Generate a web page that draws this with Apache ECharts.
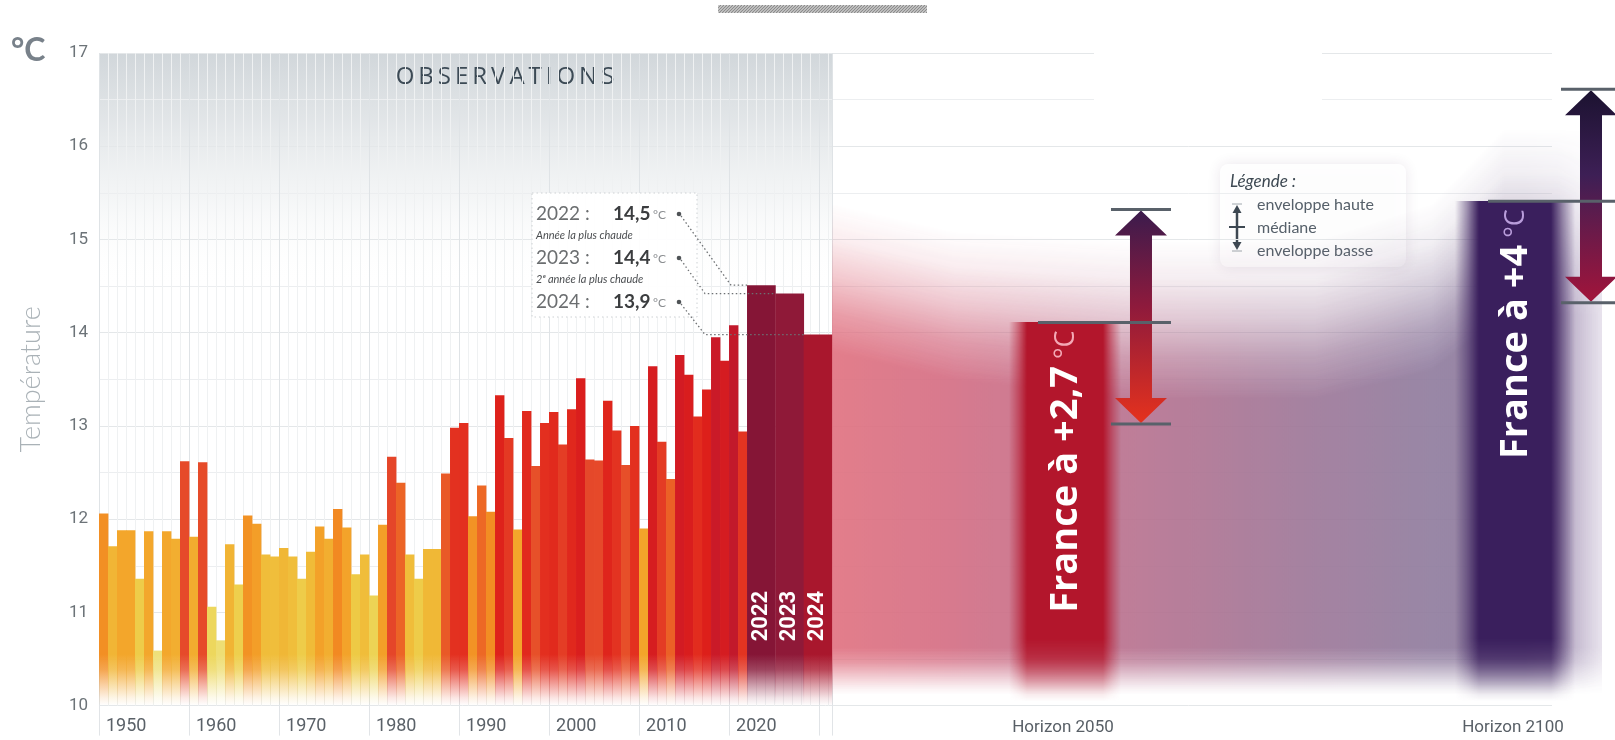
<!DOCTYPE html>
<html lang="fr">
<head>
<meta charset="utf-8">
<title>Températures moyennes annuelles en France</title>
<script type="text/javascript" src="https://cdn.jsdelivr.net/npm/echarts@6/dist/echarts.min.js"></script>
<style>
  html, body { margin: 0; padding: 0; background: #fff; }
  #main { width: 1615px; height: 740px; }
</style>
</head>
<body>
<div id="main"></div>
<script type="text/javascript">
// ---- données ----
var years = [1950, 1951, 1952, 1953, 1954, 1955, 1956, 1957, 1958, 1959,
             1960, 1961, 1962, 1963, 1964, 1965, 1966, 1967, 1968, 1969,
             1970, 1971, 1972, 1973, 1974, 1975, 1976, 1977, 1978, 1979,
             1980, 1981, 1982, 1983, 1984, 1985, 1986, 1987, 1988, 1989,
             1990, 1991, 1992, 1993, 1994, 1995, 1996, 1997, 1998, 1999,
             2000, 2001, 2002, 2003, 2004, 2005, 2006, 2007, 2008, 2009,
             2010, 2011, 2012, 2013, 2014, 2015, 2016, 2017, 2018, 2019,
             2020, 2021, 2022, 2023, 2024];
var temps = [12.06, 11.71, 11.88, 11.88, 11.36, 11.87, 10.59, 11.87, 11.79, 12.62,
             11.81, 12.61, 11.06, 10.70, 11.73, 11.30, 12.04, 11.95, 11.62, 11.60,
             11.69, 11.60, 11.36, 11.65, 11.92, 11.79, 12.11, 11.91, 11.41, 11.62,
             11.18, 11.94, 12.67, 12.39, 11.62, 11.36, 11.68, 11.68, 12.49, 12.98,
             13.03, 12.03, 12.36, 12.08, 13.33, 12.87, 11.89, 13.16, 12.57, 13.03,
             13.15, 12.80, 13.18, 13.51, 12.64, 12.63, 13.27, 12.95, 12.58, 13.00,
             11.90, 13.64, 12.83, 12.43, 13.76, 13.55, 13.10, 13.39, 13.95, 13.70,
             14.08, 12.94, 14.51, 14.42, 13.98];
var recordYears = [2022, 2023, 2024];
var recordTexts = ['14,5', '14,4', '13,9'];
var recordNotes = ['Année la plus chaude', '2ᵉ année la plus chaude', ''];
var horizons = [2050, 2100];
var medianTemp = [14.11, 15.41];
var lowTemp = [13.02, 14.32];
var highTemp = [15.32, 16.61];
var warming = ['+2,7', '+4'];
var yTicks = [10, 11, 12, 13, 14, 15, 16, 17];

// ---- mise en page de l'axe horizontal (1 unité = 1 année étroite) ----
var OBS_END = 81.44;               // fin de la barre 2024
var WIDE = (OBS_END - 72) / 3;     // 2022-2024 ont des barres larges
var X_MAX = 161.44;
function slotOf(yr) {
    if (yr < 2022) return [yr - 1950, yr - 1949];
    if (yr <= 2024) return [72 + (yr - 2022) * WIDE, 72 + (yr - 2021) * WIDE];
    var c = OBS_END + (yr - 2024);
    return [c - 0.5, c + 0.5];
}

// ---- couleurs ----
var colorScale = [[10.6, '#eee07a'], [11.1, '#edd65a'], [11.4, '#eecb46'], [11.65, '#f0bb38'],
                  [11.9, '#f3a42a'], [12.1, '#f28a22'], [12.4, '#ec6326'], [12.65, '#e5472a'],
                  [13.0, '#e3301f'], [13.4, '#dd1f1a'], [13.8, '#d21b24'], [14.1, '#c1192c']];
var recordColors = {2022: '#851536', 2023: '#8f1938', 2024: '#a9172d'};
var projColors = ['#b3162c', '#3a1f5d'];
var unitColors = ['#f4a9b6', '#b99ddb'];
var arrowStops = [
    [[0, '#3a1b4d'], [0.45, '#8e1a3c'], [1, '#e6321d']],
    [[0, '#1b1230'], [0.4, '#3d1f55'], [1, '#a3143a']]
];
var blobStops = [[0, '#e0707f'], [0.15, '#d46c82'], [0.4, '#b6708e'], [0.6, '#9e7596'],
                 [0.78, '#8e7a9d'], [0.9, '#8a789c'], [1, '#b9aac8']];
var blobEdgeX     = [81.4, 95, 115, 135, 148, 156, 168];
var blobEdgeStart = [15.4, 15.1, 15.0, 15.0, 15.4, 16.2, 16.2];
var blobEdgeFull  = [13.8, 13.5, 13.3, 13.3, 13.6, 14.2, 14.2];
var rampIn  = [[0, 0], [0.25, 0.14], [0.5, 0.42], [0.75, 0.76], [1, 1]];
var rampOut = [[0, 1], [0.3, 0.8], [0.6, 0.42], [0.85, 0.12], [1, 0]];

function hexRgb(h) {
    h = h.replace('#', '');
    return [parseInt(h.substr(0, 2), 16), parseInt(h.substr(2, 2), 16), parseInt(h.substr(4, 2), 16)];
}
function rgba(h, a) {
    var c = hexRgb(h);
    return 'rgba(' + c[0] + ',' + c[1] + ',' + c[2] + ',' + a + ')';
}
function mix(a, b, t) {
    var ca = hexRgb(a), cb = hexRgb(b);
    return '#' + [0, 1, 2].map(function (i) {
        var v = Math.round(ca[i] + (cb[i] - ca[i]) * t);
        return ('0' + v.toString(16)).slice(-2);
    }).join('');
}
function tempColor(v) {
    var s = colorScale;
    if (v <= s[0][0]) return s[0][1];
    for (var i = 1; i < s.length; i++) {
        if (v <= s[i][0]) return mix(s[i - 1][1], s[i][1], (v - s[i - 1][0]) / (s[i][0] - s[i - 1][0]));
    }
    return s[s.length - 1][1];
}
function interp(xs, ys, x) {
    if (x <= xs[0]) return ys[0];
    for (var i = 1; i < xs.length; i++) {
        if (x <= xs[i]) return ys[i - 1] + (ys[i] - ys[i - 1]) * (x - xs[i - 1]) / (xs[i] - xs[i - 1]);
    }
    return ys[ys.length - 1];
}
function clamp01(v) { return Math.max(0, Math.min(1, v)); }

// barre de projection : bords latéraux flous, bas qui s'efface
function softBar(coreW, edge, h, fadeFrom, color) {
    var c = document.createElement('canvas');
    c.width = Math.round(coreW + 2 * edge);
    c.height = Math.max(1, Math.round(h));
    var ctx = c.getContext('2d');
    var e = edge / c.width;
    var g = ctx.createLinearGradient(0, 0, c.width, 0);
    g.addColorStop(0, rgba(color, 0));
    g.addColorStop(e * 0.5, rgba(color, 0.45));
    g.addColorStop(e, color);
    g.addColorStop(1 - e, color);
    g.addColorStop(1 - e * 0.5, rgba(color, 0.45));
    g.addColorStop(1, rgba(color, 0));
    ctx.fillStyle = g;
    ctx.fillRect(0, 0, c.width, c.height);
    ctx.globalCompositeOperation = 'destination-in';
    var m = ctx.createLinearGradient(0, 0, 0, c.height);
    var f = clamp01(fadeFrom);
    m.addColorStop(0, 'rgba(0,0,0,1)');
    rampOut.forEach(function (r) { m.addColorStop(f + (1 - f) * r[0], 'rgba(0,0,0,' + r[1] + ')'); });
    ctx.fillStyle = m;
    ctx.fillRect(0, 0, c.width, c.height);
    return c;
}

function hatchCanvas(w, h) {
    var c = document.createElement('canvas');
    c.width = w; c.height = h;
    var g = c.getContext('2d');
    g.fillStyle = '#dcdcdc';
    g.fillRect(0, 0, w, h);
    g.strokeStyle = '#8c8c8c';
    g.lineWidth = 1.2;
    for (var x = -h; x < w + h; x += 3) {
        g.beginPath(); g.moveTo(x, h); g.lineTo(x + h, 0); g.stroke();
    }
    return c;
}

// ---- rendus ----
function renderObs(params, api) {
    var yr = api.value(0), v = api.value(1);
    var s = slotOf(yr);
    var a = api.coord([s[0], v]), b = api.coord([s[1], 10]);
    var yFade = api.coord([0, 10.55])[1];
    var col = recordColors[yr] || tempColor(v);
    var h = b[1] - a[1];
    var f = clamp01((yFade - a[1]) / h);
    var stops = [{offset: 0, color: col}];
    rampOut.forEach(function (r) { stops.push({offset: f + (1 - f) * r[0], color: rgba(col, r[1])}); });
    var kids = [{
        type: 'rect',
        shape: {x: a[0], y: a[1], width: b[0] - a[0] + 0.4, height: h},
        style: {fill: new echarts.graphic.LinearGradient(0, 0, 0, 1, stops)}
    }];
    if (recordColors[yr]) {
        kids.push({
            type: 'text', x: (a[0] + b[0]) / 2, y: api.coord([0, 10.96])[1], rotation: Math.PI / 2,
            style: {text: String(yr), fill: '#fff', font: 'bold 22px Roboto', align: 'center', verticalAlign: 'middle'}
        });
    }
    return {type: 'group', children: kids};
}

function renderBlob(params, api) {
    var BLOB_END = 167, BLOB_TOP = 16.6;
    var pL = api.coord([OBS_END, 10.02]);
    var pR = api.coord([BLOB_END, BLOB_TOP]);
    var x0 = pL[0], yT = pR[1];
    var w = Math.round(pR[0] - x0), h = Math.round(pL[1] - yT);
    var c = document.createElement('canvas');
    c.width = w; c.height = h;
    var ctx = c.getContext('2d');
    var g = ctx.createLinearGradient(0, 0, w, 0);
    blobStops.forEach(function (s) { g.addColorStop(s[0], s[1]); });
    ctx.fillStyle = g;
    ctx.fillRect(0, 0, w, h);

    var m = document.createElement('canvas');
    m.width = w; m.height = h;
    var mc = m.getContext('2d');
    var b0 = clamp01((api.coord([0, 10.62])[1] - yT) / h);
    var b1 = clamp01((api.coord([0, 10.12])[1] - yT) / h);
    for (var x = 0; x < w; x += 2) {
        var sl = OBS_END + (x / w) * (BLOB_END - OBS_END);
        var ys = clamp01((api.coord([sl, interp(blobEdgeX, blobEdgeStart, sl)])[1] - yT) / h);
        var yf = clamp01((api.coord([sl, interp(blobEdgeX, blobEdgeFull, sl)])[1] - yT) / h);
        yf = Math.min(Math.max(yf, ys + 0.001), b0 - 0.001);
        var k = sl > 162 ? 1 - 0.65 * (sl - 162) / (BLOB_END - 162) : 1;
        var lg = mc.createLinearGradient(0, 0, 0, h);
        lg.addColorStop(0, 'rgba(0,0,0,0)');
        rampIn.forEach(function (r) { lg.addColorStop(ys + (yf - ys) * r[0], 'rgba(0,0,0,' + (r[1] * k) + ')'); });
        rampOut.forEach(function (r) { lg.addColorStop(b0 + (b1 - b0) * r[0], 'rgba(0,0,0,' + (r[1] * k) + ')'); });
        lg.addColorStop(1, 'rgba(0,0,0,0)');
        mc.fillStyle = lg;
        mc.fillRect(x, 0, 2, h);
    }
    ctx.globalCompositeOperation = 'destination-in';
    ctx.drawImage(m, 0, 0);
    return {type: 'image', style: {image: c, x: x0, y: yT, width: w, height: h, opacity: 0.9}};
}

function renderProjection(params, api) {
    var i = params.dataIndex;
    var yr = api.value(0), med = api.value(1), lo = api.value(2), hi = api.value(3);
    var cSlot = OBS_END + (yr - 2024);
    var pTop = api.coord([cSlot, med]);
    var yBase = api.coord([cSlot, 10.05])[1];
    var cx = pTop[0] - 1;
    var coreW = i === 0 ? 76 : 72, edge = i === 0 ? 18 : 24;
    var barH = yBase - pTop[1];
    var fade = (api.coord([0, 10.72])[1] - pTop[1]) / barH;
    var img = softBar(coreW, edge, barH, fade, projColors[i]);
    var yHi = api.coord([cSlot, hi])[1], yLo = api.coord([cSlot, lo])[1];
    var ax = cx + 76, sw = 11, hw = 26, hl = 26;
    var grey = '#59616a';
    return {type: 'group', children: [
        {type: 'image', style: {image: img, x: cx - coreW / 2 - edge, y: pTop[1], width: img.width, height: img.height}},
        {type: 'text', x: cx + 1, y: pTop[1] + 8, rotation: Math.PI / 2, style: {
            text: '{b|France à ' + warming[i] + '}{u| °C}', align: 'right', verticalAlign: 'middle',
            rich: {
                b: {fontFamily: 'Open Sans', fontWeight: 'bold', fontSize: 38, fill: '#fff'},
                u: {fontFamily: 'Open Sans', fontSize: 27, fill: unitColors[i]}
            }
        }},
        {type: 'polygon', shape: {points: [
            [ax, yHi + 1], [ax + hw, yHi + hl], [ax + sw, yHi + hl], [ax + sw, yLo - hl], [ax + hw, yLo - hl],
            [ax, yLo - 1], [ax - hw, yLo - hl], [ax - sw, yLo - hl], [ax - sw, yHi + hl], [ax - hw, yHi + hl]
        ]}, style: {fill: new echarts.graphic.LinearGradient(0, yHi, 0, yLo, arrowStops[i].map(function (s) {
            return {offset: s[0], color: s[1]};
        }), true)}},
        {type: 'line', shape: {x1: ax - 30, y1: yHi, x2: ax + 30, y2: yHi}, style: {stroke: grey, lineWidth: 3}},
        {type: 'line', shape: {x1: ax - 30, y1: yLo, x2: ax + 30, y2: yLo}, style: {stroke: grey, lineWidth: 3}},
        {type: 'line', shape: {x1: cx - 27, y1: pTop[1], x2: ax + 30, y2: pTop[1]}, style: {stroke: grey, lineWidth: 3}},
        {type: 'text', x: cx - 2, y: api.coord([cSlot, 10])[1] + 22, style: {
            text: 'Horizon ' + yr, fill: '#585f66', font: '17px Roboto', align: 'center', verticalAlign: 'middle'
        }}
    ]};
}

function renderRecord(params, api) {
    var i = params.dataIndex, yr = api.value(0), v = api.value(1);
    var s = slotOf(yr);
    var top = api.coord([s[0], v]);
    var rowY = 214 + i * 44;
    var bendX = i === 0 ? top[0] - 16 : 705;
    var kids = [];
    if (i === 0) {
        kids.push({type: 'rect', shape: {x: 532, y: 193, width: 165, height: 124},
            style: {fill: 'rgba(255,255,255,0.92)', stroke: '#cdd1d4', lineWidth: 1, lineDash: [1.5, 3]}});
    }
    kids.push(
        {type: 'text', x: 536, y: rowY, style: {text: yr + ' :', font: '19px Lato', fill: '#6b6e70', verticalAlign: 'middle'}},
        {type: 'text', x: 613, y: rowY, style: {text: recordTexts[i], font: 'bold 19px Lato', fill: '#3b3d3f', verticalAlign: 'middle'}},
        {type: 'text', x: 653, y: rowY + 1, style: {text: '°C', font: '12px Lato', fill: '#8a8d90', verticalAlign: 'middle'}},
        {type: 'circle', shape: {cx: 679, cy: rowY, r: 2.3}, style: {fill: '#4f5356'}},
        {type: 'polyline', shape: {points: [[681, rowY + 2], [bendX, top[1]], [top[0], top[1]]]},
            style: {stroke: '#6d7073', lineWidth: 1.3, lineDash: [1.5, 2.5], fill: null}}
    );
    if (recordNotes[i]) {
        kids.push({type: 'text', x: 536, y: rowY + 21, style: {text: recordNotes[i], font: 'italic 11px Lato', fill: '#4a4d50', verticalAlign: 'middle'}});
    }
    return {type: 'group', children: kids};
}

// ---- graphique ----
var chart = echarts.init(document.getElementById('main'));

var obsData = years.map(function (yr, i) { return [yr, temps[i]]; });
var projData = horizons.map(function (yr, i) { return [yr, medianTemp[i], lowTemp[i], highTemp[i]]; });
var recData = recordYears.map(function (yr) { return [yr, temps[years.indexOf(yr)]]; });

var obsBg = new echarts.graphic.LinearGradient(0, 0, 0, 1, [
    {offset: 0, color: 'rgba(196,203,208,0.78)'},
    {offset: 0.1, color: 'rgba(207,213,217,0.62)'},
    {offset: 0.22, color: 'rgba(228,232,234,0.42)'},
    {offset: 0.36, color: 'rgba(255,255,255,0)'}
]);

chart.setOption({
    animation: false,
    backgroundColor: '#fff',
    grid: [
        {left: 99, top: 53, width: 733, bottom: 34.4, show: true, borderWidth: 0, backgroundColor: obsBg},
        {left: 99, top: 53, right: 63, bottom: 34.4}
    ],
    xAxis: [{
        gridIndex: 0, type: 'value', min: 0, max: OBS_END, interval: 10,
        axisLine: {show: false},
        axisTick: {show: true, length: 30, lineStyle: {color: '#e1e4e7'}},
        axisLabel: {
            align: 'left', padding: [0, 0, 0, 7], margin: 12, color: '#5a6168',
            fontFamily: 'Roboto', fontSize: 18,
            formatter: function (v) { return v <= 70 ? String(1950 + Math.round(v)) : ''; }
        },
        splitLine: {show: true, lineStyle: {color: '#dfe3e6'}},
        minorTick: {show: false, splitNumber: 10},
        minorSplitLine: {show: true, lineStyle: {color: '#eff1f2'}}
    }, {
        gridIndex: 1, type: 'value', min: 0, max: X_MAX, show: false
    }],
    yAxis: [{
        gridIndex: 0, type: 'value', min: 10, max: 17, interval: 1, show: false
    }, {
        gridIndex: 1, type: 'value', min: yTicks[0], max: yTicks[yTicks.length - 1], interval: 1,
        axisLine: {show: false},
        axisTick: {show: false},
        axisLabel: {margin: 11, color: '#6c7378', fontFamily: 'Roboto', fontSize: 17},
        splitLine: {show: true, lineStyle: {color: '#e4e7e9'}},
        minorTick: {show: false, splitNumber: 2},
        minorSplitLine: {show: true, lineStyle: {color: '#eceef0'}},
        name: 'Température', nameLocation: 'middle', nameGap: 54,
        nameTextStyle: {color: '#aab2b7', fontFamily: 'Lato', fontWeight: 300, fontSize: 27}
    }],
    graphic: [
        {type: 'image', x: 718, y: 5, style: {image: hatchCanvas(209, 8), width: 209, height: 8}},
        {type: 'text', x: 11, y: 51, style: {text: '°C', font: 'bold 32px Lato', fill: '#78818a', verticalAlign: 'middle'}},
        {type: 'text', x: 505, y: 77, style: {
            text: 'OBSERVATIONS'.split('').join('\u2009'), font: '500 24px "Open Sans"', fill: '#3c4a55',
            align: 'center', verticalAlign: 'middle'
        }},
        {type: 'rect', z: 1, shape: {x: 1094, y: 40, width: 228, height: 63}, style: {fill: '#fff'}},
        {type: 'group', x: 1220, y: 164, z: 20, children: [
            {type: 'rect', shape: {x: 0, y: 0, width: 186, height: 103, r: 8},
                style: {fill: 'rgba(255,255,255,0.9)', shadowBlur: 14, shadowColor: 'rgba(70,40,80,0.12)'}},
            {type: 'text', x: 10, y: 18, style: {text: 'Légende :', font: 'italic 17px Lato', fill: '#3d4852', verticalAlign: 'middle'}},
            {type: 'text', x: 37, y: 41, style: {text: 'enveloppe haute', font: '16px Lato', fill: '#56606a', verticalAlign: 'middle'}},
            {type: 'text', x: 37, y: 64, style: {text: 'médiane', font: '16px Lato', fill: '#56606a', verticalAlign: 'middle'}},
            {type: 'text', x: 37, y: 87, style: {text: 'enveloppe basse', font: '16px Lato', fill: '#56606a', verticalAlign: 'middle'}},
            {type: 'line', shape: {x1: 17, y1: 47, x2: 17, y2: 80}, style: {stroke: '#3d4852', lineWidth: 2.5}},
            {type: 'polygon', shape: {points: [[17, 41], [12.5, 49], [21.5, 49]]}, style: {fill: '#3d4852'}},
            {type: 'polygon', shape: {points: [[17, 86], [12.5, 78], [21.5, 78]]}, style: {fill: '#3d4852'}},
            {type: 'line', shape: {x1: 9, y1: 63, x2: 25, y2: 63}, style: {stroke: '#3d4852', lineWidth: 2}},
            {type: 'line', shape: {x1: 12, y1: 40, x2: 22, y2: 40}, style: {stroke: '#a0a8ae', lineWidth: 1}},
            {type: 'line', shape: {x1: 12, y1: 87, x2: 22, y2: 87}, style: {stroke: '#a0a8ae', lineWidth: 1}}
        ]}
    ],
    series: [{
        name: 'Observations', type: 'custom', xAxisIndex: 1, yAxisIndex: 1, silent: true,
        renderItem: renderObs, data: obsData
    }, {
        name: 'Fond projections', type: 'custom', xAxisIndex: 1, yAxisIndex: 1, silent: true,
        renderItem: renderBlob, data: [[OBS_END, 10]]
    }, {
        name: 'Projections', type: 'custom', xAxisIndex: 1, yAxisIndex: 1, silent: true,
        renderItem: renderProjection, data: projData
    }, {
        name: 'Records', type: 'custom', xAxisIndex: 1, yAxisIndex: 1, silent: true,
        renderItem: renderRecord, data: recData
    }]
});
</script>
</body>
</html>
